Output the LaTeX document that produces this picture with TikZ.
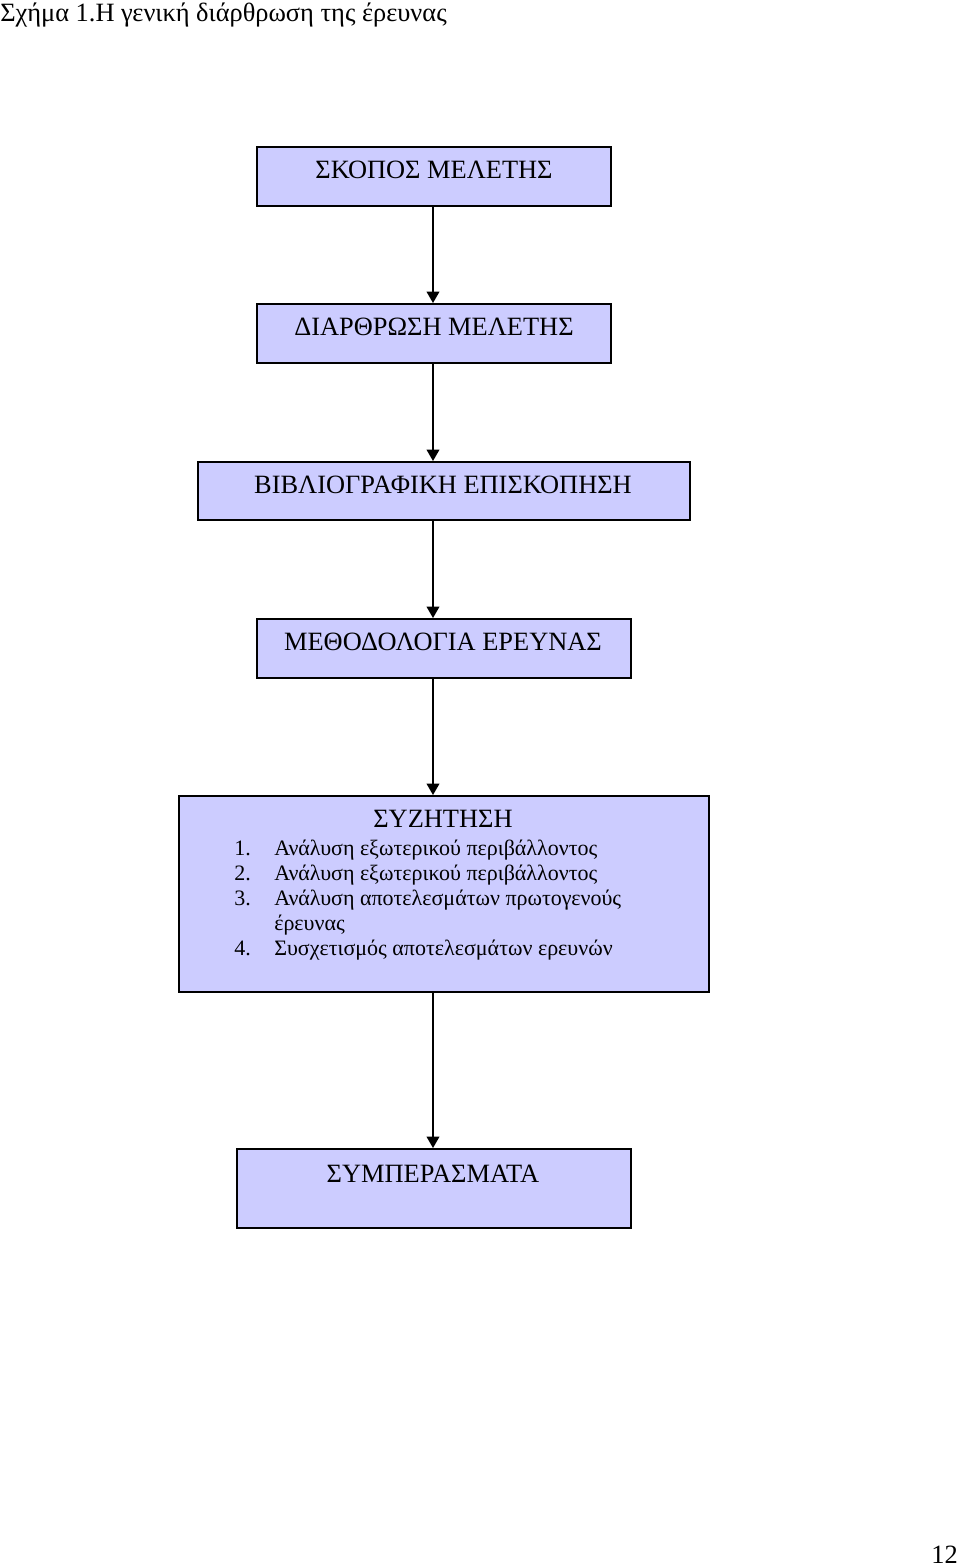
\documentclass[tikz,border=0pt]{standalone}
\usepackage{fontspec}
\setmainfont{Liberation Serif}
\usetikzlibrary{arrows.meta,positioning}
\definecolor{boxblue}{RGB}{204,204,255}
\tikzset{
  stage/.style={draw=black, line width=1.5pt, fill=boxblue, inner sep=0pt, anchor=north west},
  heading/.style={inner sep=0pt, anchor=base, font=\fontsize{19.8}{23}\selectfont},
  item/.style={inner sep=0pt, anchor=base west, font=\fontsize{16.5}{19}\selectfont},
  flow/.style={line width=1.1pt, -{Triangle[length=8.5pt,width=9.5pt]}},
}

\begin{document}
\begin{tikzpicture}[x=0.75pt, y=-0.75pt]
\useasboundingbox (0,0) rectangle (960,1568);

% Caption and page number
\node[heading, anchor=base west] (caption) at (0,21) {Σχήμα 1.Η γενική διάρθρωση της έρευνας};
\node[heading, anchor=base east] (pagenum) at (958,1563) {12};

% Boxes
\node[stage, minimum width=265.5pt, minimum height=44.25pt] (aim) at (256,146) {};
\node[stage, minimum width=265.5pt, minimum height=44.25pt] (layout) at (256,303) {};
\node[stage, minimum width=369pt, minimum height=43.5pt] (review) at (197,461) {};
\node[stage, minimum width=280.5pt, minimum height=44.25pt] (method) at (256,618) {};
\node[stage, minimum width=397.5pt, minimum height=147pt] (discuss) at (178,795) {};
\node[stage, minimum width=295.5pt, minimum height=59.25pt] (concl) at (236,1148) {};

% Box titles
\node[heading] (aimtxt) at (434,178) {ΣΚΟΠΟΣ ΜΕΛΕΤΗΣ};
\node[heading] (layouttxt) at (434,335) {ΔΙΑΡΘΡΩΣΗ ΜΕΛΕΤΗΣ};
\node[heading] (reviewtxt) at (443,493) {ΒΙΒΛΙΟΓΡΑΦΙΚΗ ΕΠΙΣΚΟΠΗΣΗ};
\node[heading] (methodtxt) at (443,650) {ΜΕΘΟΔΟΛΟΓΙΑ ΕΡΕΥΝΑΣ};
\node[heading] (discusstxt) at (443,827) {ΣΥΖΗΤΗΣΗ};
\node[heading] (concltxt) at (433,1182) {ΣΥΜΠΕΡΑΣΜΑΤΑ};

% Discussion list
\node[item] (n1) at (234,855) {1.};
\node[item] (t1) at (274,855) {Ανάλυση εξωτερικού περιβάλλοντος};
\node[item] (n2) at (234,880) {2.};
\node[item] (t2) at (274,880) {Ανάλυση εξωτερικού περιβάλλοντος};
\node[item] (n3) at (234,905) {3.};
\node[item] (t3) at (274,905) {Ανάλυση αποτελεσμάτων πρωτογενούς};
\node[item] (t3b) at (274,930) {έρευνας};
\node[item] (n4) at (234,955) {4.};
\node[item] (t4) at (274,955) {Συσχετισμός αποτελεσμάτων ερευνών};

% Arrows
\coordinate (spine) at (433,0);
\draw[flow] (aim.south -| spine) -- (layout.north -| spine);
\draw[flow] (layout.south -| spine) -- (review.north -| spine);
\draw[flow] (review.south -| spine) -- (method.north -| spine);
\draw[flow] (method.south -| spine) -- (discuss.north -| spine);
\draw[flow] (discuss.south -| spine) -- (concl.north -| spine);
\end{tikzpicture}
\end{document}
